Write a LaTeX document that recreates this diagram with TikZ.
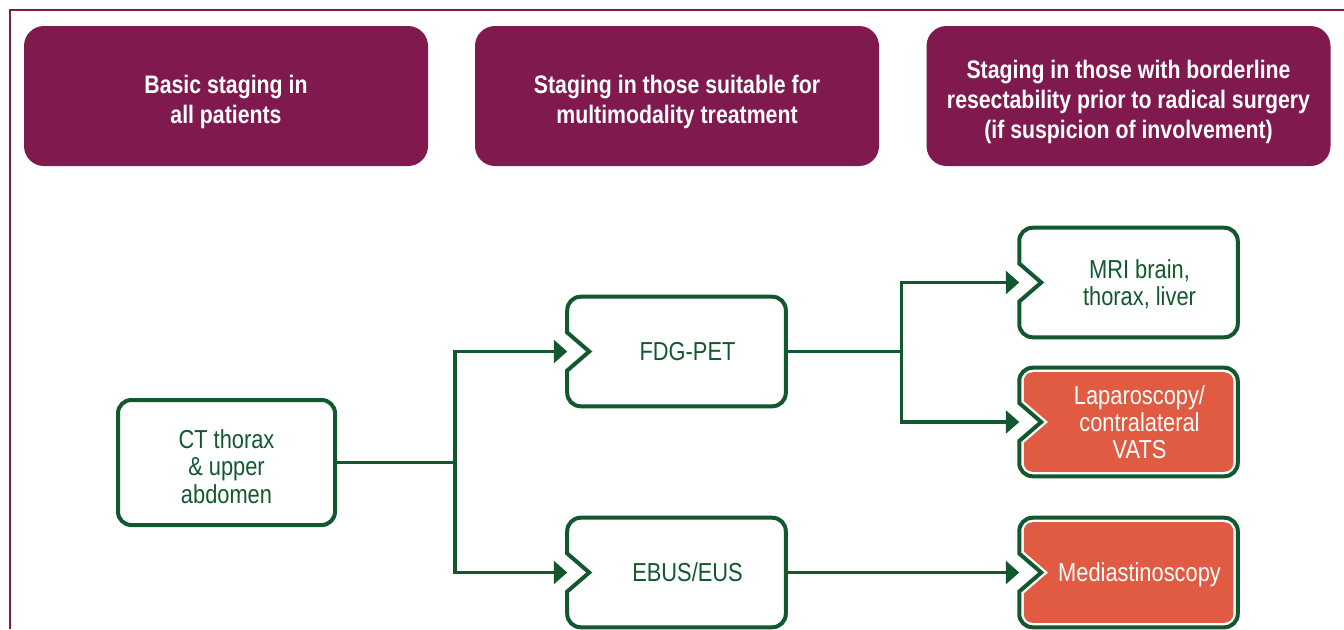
\documentclass[tikz,border=0pt]{standalone}
\usepackage{fontspec}
\setmainfont{Liberation Sans}[FakeStretch=0.84]
\usetikzlibrary{calc,arrows.meta,backgrounds}

\definecolor{plum}{RGB}{128,25,78}
\definecolor{pine}{RGB}{18,88,46}
\definecolor{coral}{RGB}{224,91,65}

% outline of a box with a notch cut in its left side
% #1 = node (the part right of the notch), #2 = inset in px
\newcommand{\notchpath}[2]{%
  ($(#1.west)+({1.53*#2},0)$)
  -- ($(#1.west)+({-22+#2},{-19-0.46*#2})$)
  {[rounded corners=10pt-0.75pt*#2]
  -- ($(#1.north west)+({-22+#2},#2)$)
  -- ($(#1.north east)+(-#2,#2)$)
  -- ($(#1.south east)+(-#2,-#2)$)
  -- ($(#1.south west)+({-22+#2},-#2)$)}
  -- ($(#1.west)+({-22+#2},{19+0.46*#2})$)
  -- cycle}

\begin{document}
\begin{tikzpicture}[x=0.75pt,y=-0.75pt,
    header/.style={fill=plum, rounded corners=15pt, minimum width=303pt,
      minimum height=105pt, text=white, align=center, text depth=0pt,
      text height=41pt, font=\fontsize{19}{22.5}\selectfont\bfseries},
    stage/.style={text=pine, align=center, minimum width=147pt,
      minimum height=81.75pt, text depth=0pt,
      font=\fontsize{19.5}{20.5}\selectfont},
    boxline/.style={draw=pine, line width=3pt},
    link/.style={draw=pine, line width=2.4pt},
    arrowlink/.style={link, -{Triangle[length=10pt,width=17pt]}}]

    % fix the size of the page
    \useasboundingbox (0,0) rectangle (1344,629);

    % frame along the top and left side
    \draw[plum, line width=1.5pt] (1344,10) -- (10,10) -- (10,629);

    % Column headers
    \node[header] (hdrbasic) at (226,96) {Basic staging in\\all patients};
    \node[header] (hdrmulti) at (677,96) {Staging in those suitable for\\multimodality treatment};
    \node[header, text height=63.5pt] (hdrborder) at (1128.5,96) {Staging in those with borderline\\resectability prior to radical surgery\\(if suspicion of involvement)};

    % First column: plain rounded box
    \node[stage, boxline, rounded corners=10pt, minimum width=162.75pt,
      minimum height=93.75pt, text height=61pt] (ct) at (226.5,462.5) {CT thorax\\\& upper\\abdomen};

    % Second column: notched boxes
    \node[stage] (fdg) at (687.5,351.5) {FDG-PET};
    \node[stage] (ebus) at (687.5,572.5) {EBUS/EUS};

    % Third column: notched boxes, two of them filled
    \node[stage] (mri) at (1139.5,282.5) {MRI brain,\\thorax, liver};
    \node[stage, text=white, minimum height=81pt] (lap) at (1139.5,422) {Laparoscopy/\\contralateral\\VATS};
    \node[stage, text=white] (med) at (1139.5,572.5) {Mediastinoscopy};

    % notch outlines behind the texts
    \begin{scope}[on background layer]
        \foreach \n in {lap,med}
            \fill[coral] \notchpath{\n}{4.5};
        \foreach \n in {fdg,ebus,mri,lap,med}
            \draw[boxline] \notchpath{\n}{0};
    \end{scope}

    % entry points on the outer left edge of the notched boxes
    \foreach \n in {fdg,ebus,mri,lap,med}
        \coordinate (\n-in) at ($(\n.west)+(-22,0)$);

    % Branch points
    \coordinate (forkct) at ($(ct.east)+(118,0)$);
    \coordinate (forkfdg) at ($(fdg.east)+(116,0)$);

    % Connectors
    \draw[link] (ct.east) -- (forkct);
    \draw[arrowlink] (forkct) |- (fdg-in);
    \draw[arrowlink] (forkct) |- (ebus-in);

    \draw[link] (fdg.east) -- (forkfdg);
    \draw[arrowlink] (forkfdg) |- (mri-in);
    \draw[arrowlink] (forkfdg) |- (lap-in);

    \draw[arrowlink] (ebus.east) -- (med-in);

\end{tikzpicture}
\end{document}
